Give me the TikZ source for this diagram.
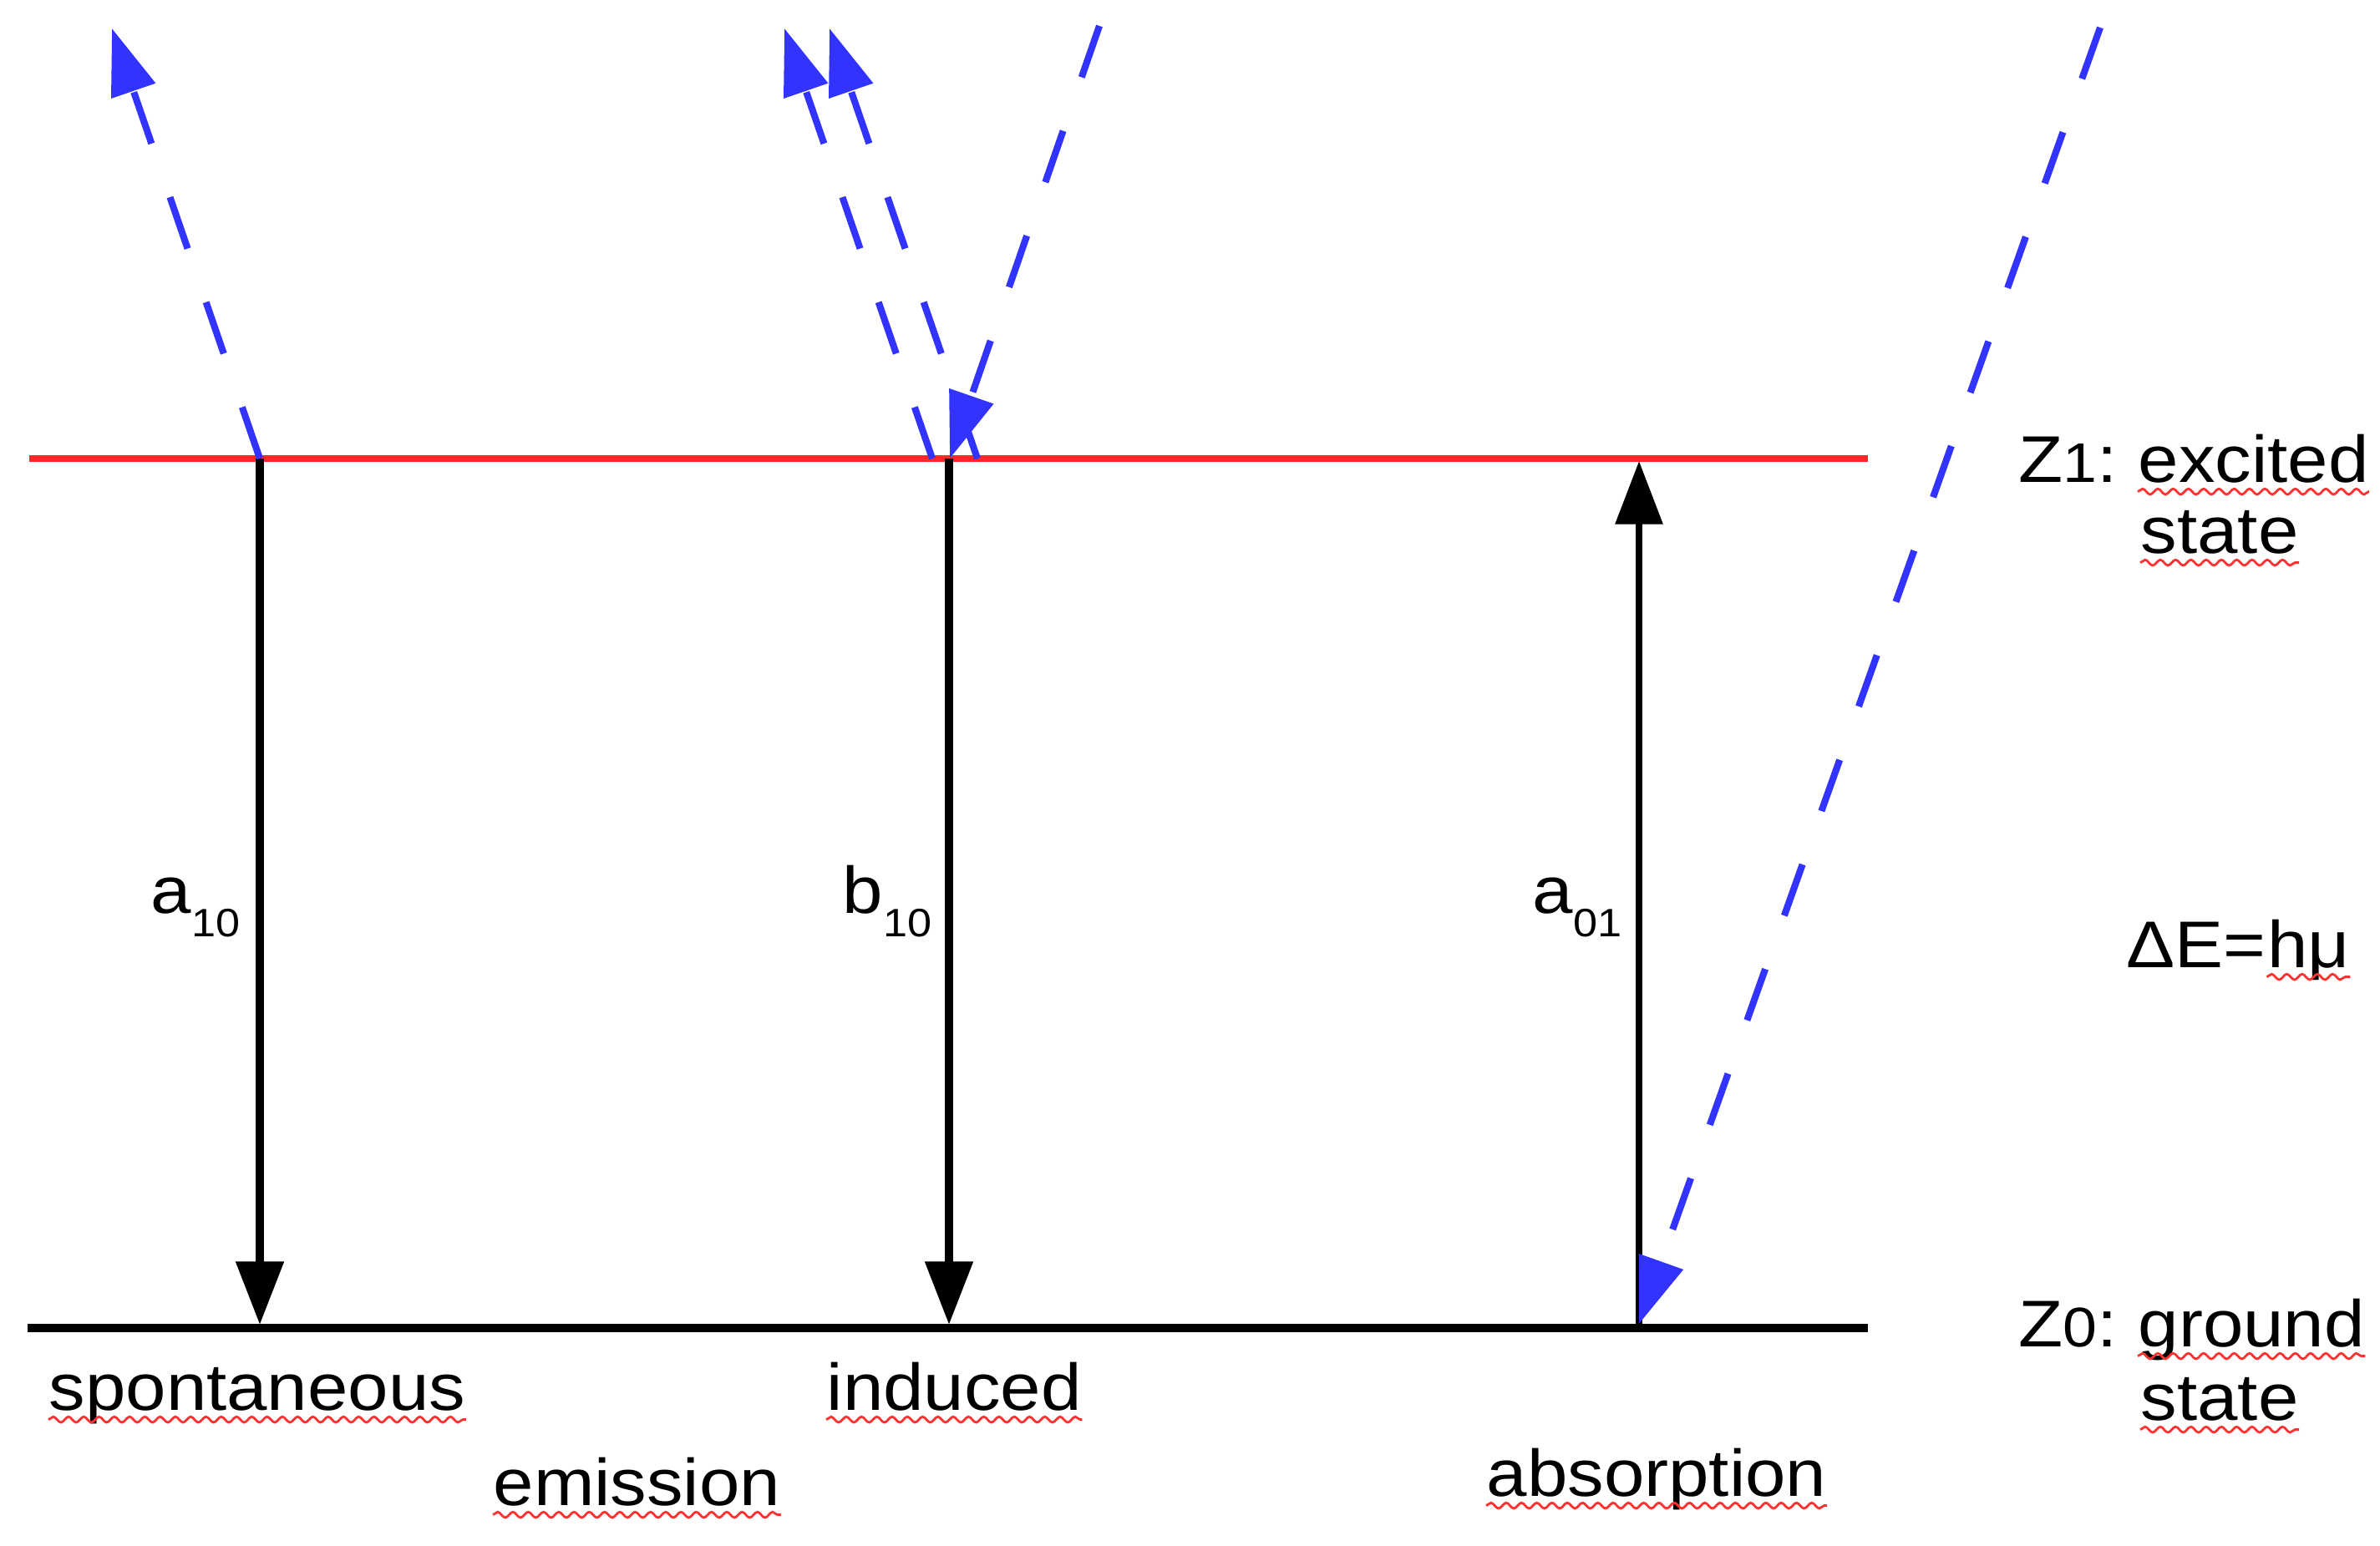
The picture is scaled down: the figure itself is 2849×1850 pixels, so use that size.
\documentclass[tikz,border=0pt]{standalone}
\usepackage{fontspec}
\setmainfont{Liberation Sans}[FakeStretch=1.1]
\usetikzlibrary{arrows.meta,decorations.pathmorphing}
\definecolor{photon}{RGB}{51,51,255}
\definecolor{lvlred}{RGB}{255,40,40}
\definecolor{squigred}{RGB}{255,50,50}
\newcommand{\subs}[1]{\raisebox{-8pt}{\fontsize{13.5}{15}\selectfont #1}}
\newcommand{\smalldigit}[1]{{\fontsize{19}{21}\selectfont #1}}
\begin{document}
\begin{tikzpicture}[x=0.01cm,y=-0.01cm,
  lbl/.style={anchor=base west,inner sep=0pt,font=\fontsize{22.5}{27}\selectfont},
  photonarrow/.style={draw=photon,line width=2.3pt,dash pattern=on 18.5pt off 19.3pt,
    -{Triangle[length=22.5pt,width=15.4pt]}},
  transition/.style={draw=black,line width=2.8pt,-{Triangle[length=21.5pt,width=15.8pt]}},
  squig/.style={draw=squigred,line width=0.8pt,decorate,
    decoration={snake,segment length=5.2pt,amplitude=0.95pt}},
]
\useasboundingbox[fill=white] (0,0) rectangle (2849,1850);

% energy levels
\coordinate (e1L) at (35,549);  \coordinate (e1R) at (2236,549);
\coordinate (g0L) at (33,1590); \coordinate (g0R) at (2236,1590);
\draw[lvlred,line width=2.5pt] (e1L) -- (e1R);
\draw[black,line width=2.85pt] (g0L) -- (g0R);

% transitions
\coordinate (s1) at (311,549);  \coordinate (s0) at (311,1586);
\coordinate (i1) at (1136,549); \coordinate (i0) at (1136,1586);
\coordinate (a0) at (1962,1590); \coordinate (a1) at (1962,552);
\draw[transition] (s1) -- (s0);
\draw[transition] (i1) -- (i0);
\draw[transition,line width=2.2pt] (a0) -- (a1);

% photons
\coordinate (spS) at (311,549);  \coordinate (spT) at (134,34);
\coordinate (in1S) at (1116,549); \coordinate (in1T) at (939,34);
\coordinate (in2S) at (1170,549); \coordinate (in2T) at (993,34);
\coordinate (incS) at (1316,31);  \coordinate (incT) at (1137,549);
\coordinate (abS) at (2514,33);   \coordinate (abT) at (1962,1585);
\draw[photonarrow] (spS) -- (spT);
\draw[photonarrow] (in1S) -- (in1T);
\draw[photonarrow] (in2S) -- (in2T);
\draw[photonarrow] (incS) -- (incT);
\draw[photonarrow] (abS) -- (abT);

% rate labels
\node[lbl] (la10) at (180,1093) {a\subs{10}};
\node[lbl] (lb10) at (1008,1093) {b\subs{10}};
\node[lbl] (la01) at (1834,1093) {a\subs{01}};

% process labels
\node[lbl] (spont) at (58,1688) {spontaneous};
\node[lbl] (induc) at (989,1688) {induced};
\node[lbl] (emis) at (590,1802) {emission};
\node[lbl] (absn) at (1779,1791) {absorption};

% level labels
\node[lbl] (z1) at (2416,577) {Z\smalldigit{1}:};
\node[lbl] (exc) at (2559,577) {excited};
\node[lbl] (st1) at (2562,662) {state};
\node[lbl] (de) at (2545,1158) {ΔE=};
\node[lbl] (hmu) at (de.base east) {hμ};
\node[lbl] (z0) at (2416,1612) {Z\smalldigit{0}:};
\node[lbl] (gnd) at (2559,1612) {ground};
\node[lbl] (st0) at (2562,1700) {state};

% spell-check squiggles
\foreach \n in {spont,induc,emis,absn,exc,st1,hmu,gnd,st0}{
  \draw[squig] ([yshift=-3.3pt]\n.base west) -- ([yshift=-3.3pt]\n.base east);
}
\end{tikzpicture}
\end{document}
